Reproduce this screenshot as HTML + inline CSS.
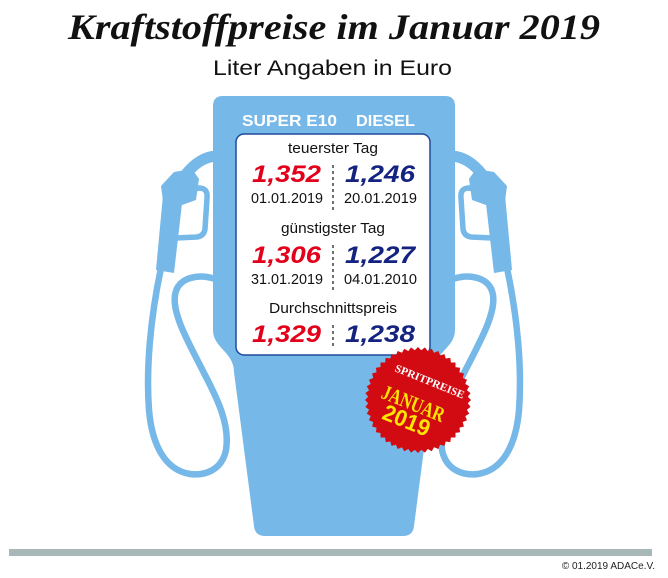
<!DOCTYPE html>
<html>
<head>
<meta charset="utf-8">
<style>
  html, body { margin:0; padding:0; background:#fff; }
  body { width:668px; height:578px; overflow:hidden; }
  svg { display:block; }
</style>
</head>
<body>
<svg width="668" height="578" viewBox="0 0 668 578" xmlns="http://www.w3.org/2000/svg">
  <rect x="0" y="0" width="668" height="578" fill="#ffffff"/>

  <!-- Title -->
  <text x="68" y="39" font-family="'Liberation Serif', serif" font-weight="bold" font-style="italic" font-size="36" fill="#111" textLength="532" lengthAdjust="spacingAndGlyphs">Kraftstoffpreise im Januar 2019</text>
  <text x="213" y="75" font-family="'Liberation Sans', sans-serif" font-size="21" fill="#111" textLength="239" lengthAdjust="spacingAndGlyphs">Liter Angaben in Euro</text>

  <!-- Nozzle + hose (left) -->
  <g fill="#76b8e7" stroke="none">
    <path d="M 216 156 C 205 157 196 162 186 174" fill="none" stroke="#76b8e7" stroke-width="11"/>
    <polygon points="161,186 174,172 192,169 199,179 196,200 182,205 163,201"/>
    <polygon points="163,195 183,195 174,273 156,270"/>
    <path d="M 182 192 L 199 188 Q 208 188 207 198 L 205 229 Q 204 236 197 237 L 176 238" fill="none" stroke="#76b8e7" stroke-width="5.5"/>
    <path d="M 215 279 C 200 274 178 276 175 295 C 172 315 190 345 205 375 C 218 400 230 425 226 450 C 222 470 205 476 190 474 C 165 470 152 445 149 410 C 146 370 150 320 161 268" fill="none" stroke="#76b8e7" stroke-width="6.5"/>
  </g>
  <!-- Nozzle + hose (right, mirrored) -->
  <g transform="matrix(-1 0 0 1 668 0)" fill="#76b8e7" stroke="none">
    <path d="M 216 156 C 205 157 196 162 186 174" fill="none" stroke="#76b8e7" stroke-width="11"/>
    <polygon points="161,186 174,172 192,169 199,179 196,200 182,205 163,201"/>
    <polygon points="163,195 183,195 174,273 156,270"/>
    <path d="M 182 192 L 199 188 Q 208 188 207 198 L 205 229 Q 204 236 197 237 L 176 238" fill="none" stroke="#76b8e7" stroke-width="5.5"/>
    <path d="M 215 279 C 200 274 178 276 175 295 C 172 315 190 345 205 375 C 218 400 230 425 226 450 C 222 470 205 476 190 474 C 165 470 152 445 149 410 C 146 370 150 320 161 268" fill="none" stroke="#76b8e7" stroke-width="6.5"/>
  </g>

  <!-- Pump body -->
  <path d="M 223 96 H 445 Q 455 96 455 106 V 330 C 455 348 434 352 434 372 L 414 526 Q 413 536 403 536 H 265 Q 255 536 254 526 L 234 372 C 234 352 213 348 213 330 V 106 Q 213 96 223 96 Z" fill="#76b8e7"/>

  <!-- Header -->
  <text x="242" y="126" font-family="'Liberation Sans', sans-serif" font-weight="bold" font-size="15.5" fill="#ffffff" textLength="95" lengthAdjust="spacingAndGlyphs">SUPER E10</text>
  <text x="356" y="126" font-family="'Liberation Sans', sans-serif" font-weight="bold" font-size="15.5" fill="#ffffff" textLength="59" lengthAdjust="spacingAndGlyphs">DIESEL</text>

  <!-- Panel -->
  <rect x="236" y="134" width="194" height="221" rx="8" ry="8" fill="#ffffff" stroke="#1f4a9a" stroke-width="1.5"/>

  <g font-family="'Liberation Sans', sans-serif" fill="#111">
    <text x="333" y="153" text-anchor="middle" font-size="15" textLength="90" lengthAdjust="spacingAndGlyphs">teuerster Tag</text>
    <text x="333" y="233" text-anchor="middle" font-size="15" textLength="104" lengthAdjust="spacingAndGlyphs">günstigster Tag</text>
    <text x="333" y="313" text-anchor="middle" font-size="15" textLength="128" lengthAdjust="spacingAndGlyphs">Durchschnittspreis</text>

    <text x="251" y="203" font-size="14.5" textLength="72" lengthAdjust="spacingAndGlyphs">01.01.2019</text>
    <text x="344" y="203" font-size="14.5" textLength="73" lengthAdjust="spacingAndGlyphs">20.01.2019</text>
    <text x="251" y="284" font-size="14.5" textLength="72" lengthAdjust="spacingAndGlyphs">31.01.2019</text>
    <text x="344" y="284" font-size="14.5" textLength="73" lengthAdjust="spacingAndGlyphs">04.01.2010</text>
  </g>

  <g font-family="'Liberation Sans', sans-serif" font-weight="bold" font-style="italic" font-size="24">
    <text x="252" y="182" fill="#e2001a" textLength="69" lengthAdjust="spacingAndGlyphs">1,352</text>
    <text x="345" y="182" fill="#14237f" textLength="70" lengthAdjust="spacingAndGlyphs">1,246</text>
    <text x="252" y="263" fill="#e2001a" textLength="69" lengthAdjust="spacingAndGlyphs">1,306</text>
    <text x="345" y="263" fill="#14237f" textLength="70" lengthAdjust="spacingAndGlyphs">1,227</text>
    <text x="252" y="342" fill="#e2001a" textLength="69" lengthAdjust="spacingAndGlyphs">1,329</text>
    <text x="345" y="342" fill="#14237f" textLength="70" lengthAdjust="spacingAndGlyphs">1,238</text>
  </g>

  <!-- Dashed dividers -->
  <g stroke="#222" stroke-width="1.3" stroke-dasharray="3 3">
    <line x1="333" y1="165" x2="333" y2="213"/>
    <line x1="333" y1="245" x2="333" y2="293"/>
    <line x1="333" y1="325" x2="333" y2="347"/>
  </g>

  <!-- Starburst -->
  <g fill="#d20a12">
    <rect x="380.5" y="362.5" width="75" height="75" transform="rotate(0 418 400)"/>
    <rect x="380.5" y="362.5" width="75" height="75" transform="rotate(7.5 418 400)"/>
    <rect x="380.5" y="362.5" width="75" height="75" transform="rotate(15 418 400)"/>
    <rect x="380.5" y="362.5" width="75" height="75" transform="rotate(22.5 418 400)"/>
    <rect x="380.5" y="362.5" width="75" height="75" transform="rotate(30 418 400)"/>
    <rect x="380.5" y="362.5" width="75" height="75" transform="rotate(37.5 418 400)"/>
    <rect x="380.5" y="362.5" width="75" height="75" transform="rotate(45 418 400)"/>
    <rect x="380.5" y="362.5" width="75" height="75" transform="rotate(52.5 418 400)"/>
    <rect x="380.5" y="362.5" width="75" height="75" transform="rotate(60 418 400)"/>
    <rect x="380.5" y="362.5" width="75" height="75" transform="rotate(67.5 418 400)"/>
    <rect x="380.5" y="362.5" width="75" height="75" transform="rotate(75 418 400)"/>
    <rect x="380.5" y="362.5" width="75" height="75" transform="rotate(82.5 418 400)"/>
  </g>
  <g transform="rotate(22 418 400)">
    <text x="422" y="382" text-anchor="middle" font-family="'Liberation Serif', serif" font-weight="bold" font-size="11" fill="#ffffff" textLength="74" lengthAdjust="spacingAndGlyphs">SPRITPREISE</text>
    <text x="415" y="412" text-anchor="middle" font-family="'Liberation Serif', serif" font-weight="bold" font-size="21" fill="#ffe500" textLength="66" lengthAdjust="spacingAndGlyphs">JANUAR</text>
    <text x="415" y="431" text-anchor="middle" font-family="'Liberation Sans', sans-serif" font-weight="bold" font-size="23" fill="#ffe500" textLength="49" lengthAdjust="spacingAndGlyphs">2019</text>
  </g>

  <!-- Bottom bar -->
  <rect x="9" y="549" width="643" height="7" fill="#a8b8b9"/>
  <text x="655" y="569" text-anchor="end" font-family="'Liberation Sans', sans-serif" font-size="10" fill="#222">© 01.2019  ADACe.V.</text>
</svg>
</body>
</html>
